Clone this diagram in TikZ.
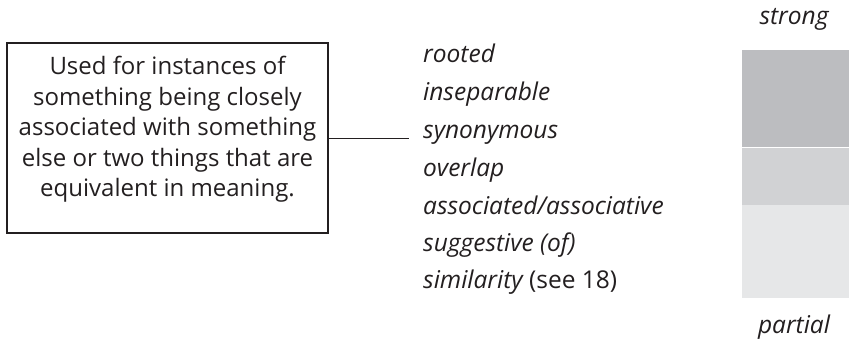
\documentclass[tikz,border=0pt]{standalone}
\usepackage{fontspec}
\setmainfont{Open Sans}
\definecolor{txt}{HTML}{231F20}
\definecolor{barA}{HTML}{BCBDC0}
\definecolor{barB}{HTML}{D1D2D4}
\definecolor{barC}{HTML}{E6E7E8}
\begin{document}
\begin{tikzpicture}[x=1pt,y=1pt,
  boxtxt/.style={align=center, inner sep=0pt, text=txt, font=\fontsize{24}{30.5}\selectfont},
  item/.style={anchor=base west, inner sep=0pt, text=txt, font=\fontsize{24.5}{28}\selectfont\itshape},
  endlabel/.style={anchor=base, inner sep=0pt, text=txt, font=\fontsize{24.5}{28}\selectfont\itshape},
  seg/.style={draw=none, inner sep=0pt, minimum width=107pt}
]
\useasboundingbox (0,0) rectangle (849,344);
% box
\node[draw=txt, line width=1.3pt, minimum width=321pt, minimum height=190pt, inner sep=0pt] (box) at (167.5,206) {};
\node[boxtxt, anchor=base] (boxtext) at (167.5,147) {Used for instances of\\something being closely\\associated with something\\else or two things that are\\equivalent in meaning.};
% list
\node[item] (i1) at (423,281) {rooted};
\node[item] (i2) at (423,243) {inseparable};
\node[item] (i3) at (423,205) {synonymous};
\node[item] (i4) at (423,167) {overlap};
\node[item] (i5) at (423,129) {associated/associative};
\node[item] (i6) at (423,92) {suggestive (of)};
\node[item] (i7) at (423,55) {similarity \upshape(see 18)};
\draw[txt, line width=0.9pt, shorten >=14pt] (box.east) -- (box.east -| i3.west);
% bar
\node[seg, fill=barA, minimum height=97pt, anchor=north west] (sA) at (742,294) {};
\node[seg, fill=barB, minimum height=57pt, anchor=north west] (sB) at (sA.south west) {};
\node[seg, fill=barC, minimum height=93pt, anchor=north west] (sC) at (sB.south west) {};
\node[endlabel] (strong) at (794,319) {strong};
\node[endlabel] (partial) at (794,10) {partial};
\end{tikzpicture}
\end{document}
